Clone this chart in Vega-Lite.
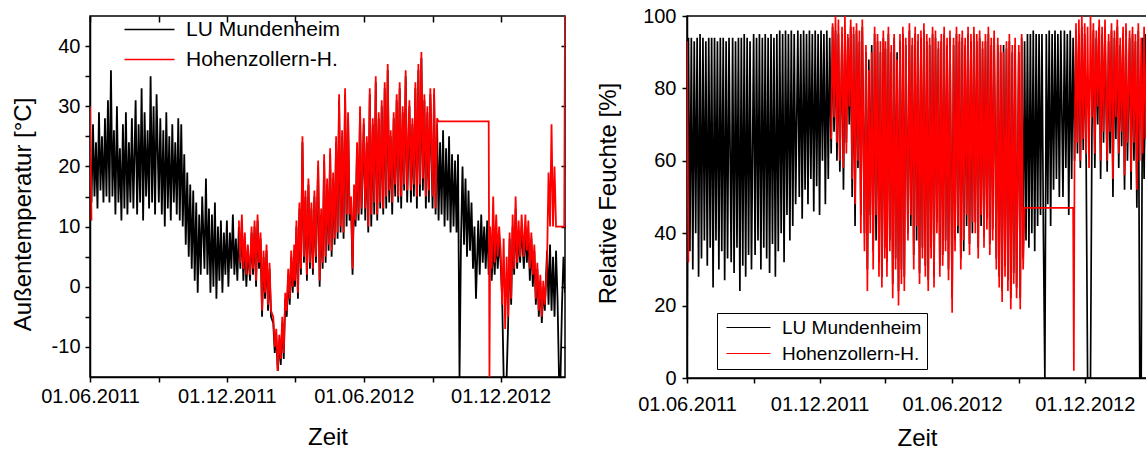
{
  "$schema": "https://vega.github.io/schema/vega-lite/v6.json",
  "background": "white",
  "padding": {"left": 10, "top": 5, "right": 0, "bottom": 0},
  "spacing": 28,
  "config": {
    "font": "Liberation Sans",
    "view": {"stroke": "black", "strokeWidth": 1.5},
    "axis": {"grid": false, "domainColor": "black", "domainWidth": 1.5, "tickColor": "black", "tickWidth": 1.5, "labelColor": "black", "titleColor": "black", "labelFontSize": 20, "titleFontSize": 24, "titleFontWeight": "normal"},
    "legend": {"labelColor": "black", "labelLimit": 400}
  },
  "resolve": {"scale": {"color": "independent"}, "legend": {"color": "independent"}},
  "datasets": {
    "m": [
      {"d":"2011-06-01","t":22,"h":0,"T":30,"H":93},
      {"d":"2011-06-03","t":14,"h":94,"T":11,"H":32},
      {"d":"2011-06-05","t":27,"h":35,"T":null,"H":null},
      {"d":"2011-06-07","t":15,"h":94},
      {"d":"2011-06-09","t":24,"h":30},
      {"d":"2011-06-11","t":13,"h":93},
      {"d":"2011-06-13","t":29,"h":40},
      {"d":"2011-06-15","t":16,"h":94},
      {"d":"2011-06-17","t":25,"h":28},
      {"d":"2011-06-19","t":14,"h":95},
      {"d":"2011-06-21","t":28,"h":33},
      {"d":"2011-06-23","t":15,"h":94},
      {"d":"2011-06-25","t":31,"h":38},
      {"d":"2011-06-27","t":14,"h":93},
      {"d":"2011-06-29","t":36,"h":31},
      {"d":"2011-07-01","t":15,"h":94},
      {"d":"2011-07-03","t":26,"h":36},
      {"d":"2011-07-05","t":12,"h":94},
      {"d":"2011-07-07","t":30,"h":25},
      {"d":"2011-07-09","t":14,"h":94},
      {"d":"2011-07-11","t":23,"h":38},
      {"d":"2011-07-13","t":11,"h":93},
      {"d":"2011-07-15","t":27,"h":30},
      {"d":"2011-07-17","t":13,"h":94},
      {"d":"2011-07-19","t":29,"h":35},
      {"d":"2011-07-21","t":12,"h":94},
      {"d":"2011-07-23","t":24,"h":27},
      {"d":"2011-07-25","t":14,"h":93},
      {"d":"2011-07-27","t":28,"h":33},
      {"d":"2011-07-29","t":13,"h":94},
      {"d":"2011-08-01","t":31,"h":32},
      {"d":"2011-08-03","t":12,"h":94},
      {"d":"2011-08-05","t":27,"h":29},
      {"d":"2011-08-07","t":14,"h":93},
      {"d":"2011-08-09","t":33,"h":36},
      {"d":"2011-08-11","t":11,"h":94},
      {"d":"2011-08-13","t":29,"h":24},
      {"d":"2011-08-15","t":15,"h":94},
      {"d":"2011-08-17","t":26,"h":31},
      {"d":"2011-08-19","t":13,"h":95},
      {"d":"2011-08-21","t":35,"h":28},
      {"d":"2011-08-23","t":14,"h":94},
      {"d":"2011-08-25","t":30,"h":34},
      {"d":"2011-08-27","t":12,"h":93},
      {"d":"2011-08-29","t":32,"h":30},
      {"d":"2011-09-01","t":14,"h":95},
      {"d":"2011-09-03","t":28,"h":34},
      {"d":"2011-09-05","t":12,"h":94},
      {"d":"2011-09-07","t":26,"h":38},
      {"d":"2011-09-09","t":10,"h":95},
      {"d":"2011-09-11","t":29,"h":30},
      {"d":"2011-09-13","t":13,"h":94},
      {"d":"2011-09-15","t":25,"h":36},
      {"d":"2011-09-17","t":11,"h":95},
      {"d":"2011-09-19","t":27,"h":33},
      {"d":"2011-09-21","t":14,"h":94},
      {"d":"2011-09-23","t":24,"h":29},
      {"d":"2011-09-25","t":12,"h":95},
      {"d":"2011-09-27","t":28,"h":37},
      {"d":"2011-09-29","t":11,"h":94},
      {"d":"2011-10-01","t":27,"h":28},
      {"d":"2011-10-03","t":10,"h":95},
      {"d":"2011-10-05","t":22,"h":35},
      {"d":"2011-10-07","t":7,"h":96},
      {"d":"2011-10-09","t":19,"h":40},
      {"d":"2011-10-11","t":5,"h":95},
      {"d":"2011-10-13","t":17,"h":32},
      {"d":"2011-10-15","t":3,"h":96},
      {"d":"2011-10-17","t":16,"h":45},
      {"d":"2011-10-19","t":1,"h":95},
      {"d":"2011-10-21","t":14,"h":38},
      {"d":"2011-10-23","t":-1,"h":96},
      {"d":"2011-10-25","t":12,"h":42},
      {"d":"2011-10-27","t":2,"h":95},
      {"d":"2011-10-29","t":15,"h":48},
      {"d":"2011-11-01","t":3,"h":96},
      {"d":"2011-11-03","t":18,"h":50},
      {"d":"2011-11-05","t":2,"h":95},
      {"d":"2011-11-07","t":13,"h":44},
      {"d":"2011-11-09","t":-1,"h":96},
      {"d":"2011-11-11","t":12,"h":52},
      {"d":"2011-11-13","t":0,"h":95},
      {"d":"2011-11-15","t":14,"h":48},
      {"d":"2011-11-17","t":-2,"h":96},
      {"d":"2011-11-19","t":10,"h":55},
      {"d":"2011-11-21","t":1,"h":95},
      {"d":"2011-11-23","t":11,"h":46},
      {"d":"2011-11-25","t":-1,"h":96},
      {"d":"2011-11-27","t":9,"h":53},
      {"d":"2011-11-29","t":2,"h":95},
      {"d":"2011-12-01","t":11,"h":45},
      {"d":"2011-12-03","t":0,"h":96},
      {"d":"2011-12-05","t":9,"h":60},
      {"d":"2011-12-07","t":3,"h":95},
      {"d":"2011-12-09","t":12,"h":48},
      {"d":"2011-12-11","t":2,"h":96},
      {"d":"2011-12-13","t":8,"h":55},
      {"d":"2011-12-15","t":1,"h":94},
      {"d":"2011-12-17","t":10,"h":62,"T":11,"H":66},
      {"d":"2011-12-19","t":3,"h":97,"T":4,"H":98},
      {"d":"2011-12-21","t":11,"h":68,"T":12,"H":72},
      {"d":"2011-12-23","t":1,"h":96,"T":3,"H":100},
      {"d":"2011-12-25","t":8,"h":60,"T":9,"H":65},
      {"d":"2011-12-27","t":0,"h":95,"T":2,"H":99},
      {"d":"2011-12-29","t":6,"h":57,"T":7,"H":60},
      {"d":"2012-01-01","t":1,"h":95,"T":2,"H":97},
      {"d":"2012-01-03","t":9,"h":52,"T":10,"H":58},
      {"d":"2012-01-05","t":2,"h":96,"T":3,"H":100},
      {"d":"2012-01-07","t":10,"h":65,"T":11,"H":62},
      {"d":"2012-01-09","t":0,"h":94,"T":1,"H":95},
      {"d":"2012-01-11","t":11,"h":70,"T":12,"H":75},
      {"d":"2012-01-13","t":3,"h":97,"T":4,"H":99},
      {"d":"2012-01-15","t":8,"h":50,"T":9,"H":55},
      {"d":"2012-01-17","t":-5,"h":95,"T":-4,"H":97},
      {"d":"2012-01-19","t":5,"h":42,"T":6,"H":48},
      {"d":"2012-01-21","t":-2,"h":96,"T":-1,"H":98},
      {"d":"2012-01-23","t":6,"h":58,"T":7,"H":60},
      {"d":"2012-01-25","t":-4,"h":93,"T":-3,"H":96},
      {"d":"2012-01-27","t":3,"h":45,"T":4,"H":40},
      {"d":"2012-01-29","t":-5,"h":97,"T":-4,"H":99},
      {"d":"2012-02-01","t":-6,"h":40,"T":-5,"H":35},
      {"d":"2012-02-03","t":-11,"h":90,"T":-10,"H":92},
      {"d":"2012-02-05","t":-8,"h":30,"T":-7,"H":24},
      {"d":"2012-02-07","t":-14,"h":88,"T":-14,"H":85},
      {"d":"2012-02-09","t":-9,"h":45,"T":-8,"H":40},
      {"d":"2012-02-11","t":-13,"h":92,"T":-12,"H":90},
      {"d":"2012-02-13","t":-6,"h":35,"T":-5,"H":30},
      {"d":"2012-02-15","t":-12,"h":95,"T":-11,"H":97},
      {"d":"2012-02-17","t":-2,"h":38,"T":-1,"H":45},
      {"d":"2012-02-19","t":-5,"h":93,"T":-4,"H":95},
      {"d":"2012-02-21","t":2,"h":32,"T":3,"H":28},
      {"d":"2012-02-23","t":-3,"h":90,"T":-2,"H":93},
      {"d":"2012-02-25","t":5,"h":28,"T":6,"H":25},
      {"d":"2012-02-27","t":-1,"h":94,"T":0,"H":96},
      {"d":"2012-02-29","t":6,"h":36,"T":7,"H":33},
      {"d":"2012-03-01","t":0,"h":91,"T":1,"H":93},
      {"d":"2012-03-03","t":10,"h":32,"T":11,"H":28},
      {"d":"2012-03-05","t":-2,"h":95,"T":-1,"H":97},
      {"d":"2012-03-07","t":13,"h":38,"T":14,"H":35},
      {"d":"2012-03-09","t":2,"h":90,"T":3,"H":92},
      {"d":"2012-03-11","t":24,"h":26,"T":25,"H":22},
      {"d":"2012-03-13","t":4,"h":94,"T":5,"H":95},
      {"d":"2012-03-15","t":15,"h":33,"T":16,"H":30},
      {"d":"2012-03-17","t":1,"h":90,"T":2,"H":88},
      {"d":"2012-03-19","t":17,"h":24,"T":18,"H":20},
      {"d":"2012-03-21","t":3,"h":93,"T":4,"H":95},
      {"d":"2012-03-23","t":13,"h":30,"T":14,"H":26},
      {"d":"2012-03-25","t":2,"h":95,"T":3,"H":97},
      {"d":"2012-03-27","t":15,"h":28,"T":16,"H":24},
      {"d":"2012-03-29","t":4,"h":92,"T":5,"H":94},
      {"d":"2012-04-01","t":20,"h":40,"T":21,"H":38},
      {"d":"2012-04-03","t":0,"h":96,"T":1,"H":98},
      {"d":"2012-04-05","t":12,"h":42,"T":13,"H":45},
      {"d":"2012-04-07","t":3,"h":92,"T":4,"H":94},
      {"d":"2012-04-09","t":21,"h":34,"T":22,"H":30},
      {"d":"2012-04-11","t":4,"h":95,"T":5,"H":97},
      {"d":"2012-04-13","t":17,"h":38,"T":18,"H":42},
      {"d":"2012-04-15","t":6,"h":93,"T":7,"H":95},
      {"d":"2012-04-17","t":22,"h":29,"T":23,"H":26},
      {"d":"2012-04-19","t":5,"h":94,"T":6,"H":96},
      {"d":"2012-04-21","t":18,"h":36,"T":19,"H":33},
      {"d":"2012-04-23","t":7,"h":96,"T":8,"H":98},
      {"d":"2012-04-25","t":24,"h":31,"T":25,"H":28},
      {"d":"2012-04-27","t":8,"h":93,"T":9,"H":95},
      {"d":"2012-04-29","t":31,"h":27,"T":32,"H":24},
      {"d":"2012-05-01","t":9,"h":92,"T":10,"H":94},
      {"d":"2012-05-03","t":25,"h":36,"T":26,"H":33},
      {"d":"2012-05-05","t":8,"h":95,"T":9,"H":97},
      {"d":"2012-05-07","t":32,"h":28,"T":33,"H":25},
      {"d":"2012-05-09","t":10,"h":94,"T":12,"H":96},
      {"d":"2012-05-11","t":28,"h":43,"T":29,"H":40},
      {"d":"2012-05-13","t":11,"h":91,"T":12,"H":93},
      {"d":"2012-05-15","t":14,"h":31,"T":15,"H":28},
      {"d":"2012-05-17","t":2,"h":93,"T":3,"H":95},
      {"d":"2012-05-19","t":16,"h":34,"T":17,"H":31},
      {"d":"2012-05-21","t":10,"h":95,"T":11,"H":97},
      {"d":"2012-05-23","t":23,"h":38,"T":24,"H":35},
      {"d":"2012-05-25","t":11,"h":92,"T":12,"H":94},
      {"d":"2012-05-27","t":29,"h":30,"T":30,"H":27},
      {"d":"2012-05-29","t":12,"h":94,"T":13,"H":96},
      {"d":"2012-06-01","t":27,"h":22,"T":28,"H":18},
      {"d":"2012-06-03","t":11,"h":92,"T":13,"H":94},
      {"d":"2012-06-05","t":24,"h":38,"T":25,"H":35},
      {"d":"2012-06-07","t":9,"h":95,"T":10,"H":97},
      {"d":"2012-06-09","t":32,"h":40,"T":33,"H":42},
      {"d":"2012-06-11","t":10,"h":93,"T":12,"H":95},
      {"d":"2012-06-13","t":27,"h":33,"T":28,"H":30},
      {"d":"2012-06-15","t":12,"h":94,"T":14,"H":96},
      {"d":"2012-06-17","t":34,"h":35,"T":35,"H":38},
      {"d":"2012-06-19","t":11,"h":92,"T":12,"H":94},
      {"d":"2012-06-21","t":28,"h":42,"T":29,"H":45},
      {"d":"2012-06-23","t":13,"h":95,"T":14,"H":97},
      {"d":"2012-06-25","t":30,"h":37,"T":31,"H":34},
      {"d":"2012-06-27","t":12,"h":93,"T":13,"H":95},
      {"d":"2012-06-29","t":33,"h":40,"T":34,"H":43},
      {"d":"2012-07-01","t":13,"h":95,"T":15,"H":97},
      {"d":"2012-07-03","t":36,"h":43,"T":37,"H":40},
      {"d":"2012-07-05","t":14,"h":93,"T":16,"H":95},
      {"d":"2012-07-07","t":25,"h":36,"T":26,"H":33},
      {"d":"2012-07-09","t":12,"h":94,"T":14,"H":96},
      {"d":"2012-07-11","t":28,"h":42,"T":29,"H":45},
      {"d":"2012-07-13","t":15,"h":91,"T":17,"H":93},
      {"d":"2012-07-15","t":31,"h":39,"T":32,"H":36},
      {"d":"2012-07-17","t":14,"h":93,"T":15,"H":95},
      {"d":"2012-07-19","t":33,"h":44,"T":34,"H":41},
      {"d":"2012-07-21","t":13,"h":95,"T":15,"H":97},
      {"d":"2012-07-23","t":29,"h":37,"T":30,"H":34},
      {"d":"2012-07-25","t":16,"h":92,"T":17,"H":94},
      {"d":"2012-07-27","t":35,"h":41,"T":36,"H":38},
      {"d":"2012-07-29","t":14,"h":94,"T":16,"H":96},
      {"d":"2012-08-01","t":30,"h":33,"T":31,"H":30},
      {"d":"2012-08-03","t":14,"h":92,"T":16,"H":94},
      {"d":"2012-08-05","t":27,"h":28,"T":28,"H":25},
      {"d":"2012-08-07","t":15,"h":90,"T":17,"H":92},
      {"d":"2012-08-09","t":33,"h":24,"T":34,"H":21},
      {"d":"2012-08-11","t":13,"h":92,"T":15,"H":90},
      {"d":"2012-08-13","t":36,"h":31,"T":37,"H":28},
      {"d":"2012-08-15","t":15,"h":91,"T":17,"H":93},
      {"d":"2012-08-17","t":38,"h":27,"T":39,"H":24},
      {"d":"2012-08-19","t":16,"h":93,"T":18,"H":95},
      {"d":"2012-08-21","t":31,"h":22,"T":32,"H":19},
      {"d":"2012-08-23","t":13,"h":90,"T":15,"H":92},
      {"d":"2012-08-25","t":29,"h":29,"T":30,"H":26},
      {"d":"2012-08-27","t":14,"h":92,"T":16,"H":94},
      {"d":"2012-08-29","t":32,"h":25,"T":33,"H":22},
      {"d":"2012-09-01","t":13,"h":90,"T":15,"H":92},
      {"d":"2012-09-03","t":32,"h":22,"T":33,"H":19},
      {"d":"2012-09-05","t":12,"h":94,"T":13,"H":95},
      {"d":"2012-09-07","t":27,"h":33,"T":28,"H":30},
      {"d":"2012-09-09","t":11,"h":93,"T":27.5,"H":47},
      {"d":"2012-09-11","t":24,"h":38},
      {"d":"2012-09-13","t":12,"h":95},
      {"d":"2012-09-15","t":26,"h":36},
      {"d":"2012-09-17","t":10,"h":95},
      {"d":"2012-09-19","t":23,"h":40},
      {"d":"2012-09-21","t":11,"h":96},
      {"d":"2012-09-23","t":25,"h":35},
      {"d":"2012-09-25","t":9,"h":95},
      {"d":"2012-09-27","t":22,"h":42},
      {"d":"2012-09-29","t":10,"h":95},
      {"d":"2012-10-01","t":21,"h":45},
      {"d":"2012-10-03","t":9,"h":95},
      {"d":"2012-10-05","t":22,"h":40},
      {"d":"2012-10-07","t":-15,"h":0},
      {"d":"2012-10-09","t":8,"h":95},
      {"d":"2012-10-11","t":20,"h":48},
      {"d":"2012-10-13","t":7,"h":96},
      {"d":"2012-10-15","t":18,"h":42},
      {"d":"2012-10-17","t":5,"h":95},
      {"d":"2012-10-19","t":16,"h":52},
      {"d":"2012-10-21","t":6,"h":96},
      {"d":"2012-10-23","t":14,"h":55},
      {"d":"2012-10-25","t":3,"h":95},
      {"d":"2012-10-27","t":10,"h":50},
      {"d":"2012-10-29","t":-2,"h":96},
      {"d":"2012-11-01","t":11,"h":50},
      {"d":"2012-11-03","t":2,"h":96},
      {"d":"2012-11-05","t":12,"h":58},
      {"d":"2012-11-07","t":4,"h":95},
      {"d":"2012-11-09","t":10,"h":45},
      {"d":"2012-11-11","t":3,"h":96},
      {"d":"2012-11-13","t":11,"h":55},
      {"d":"2012-11-15","t":2,"h":94,"T":27.5,"H":47},
      {"d":"2012-11-16","T":-15,"H":2},
      {"d":"2012-11-17","t":9,"h":60,"T":10,"H":62},
      {"d":"2012-11-19","t":1,"h":96,"T":3,"H":98},
      {"d":"2012-11-21","t":8,"h":62,"T":15,"H":65},
      {"d":"2012-11-23","t":2,"h":95,"T":4,"H":99},
      {"d":"2012-11-25","t":9,"h":58,"T":12,"H":60},
      {"d":"2012-11-27","t":3,"h":97,"T":5,"H":100},
      {"d":"2012-11-29","t":8,"h":63,"T":10,"H":66},
      {"d":"2012-12-01","t":4,"h":95,"T":6,"H":98},
      {"d":"2012-12-03","t":-2,"h":60,"T":-3,"H":62},
      {"d":"2012-12-05","t":-15,"h":0,"T":8,"H":97},
      {"d":"2012-12-07","t":-15,"h":0,"T":-7,"H":58},
      {"d":"2012-12-09","t":-15,"h":0,"T":5,"H":100},
      {"d":"2012-12-11","t":-6,"h":68,"T":-5,"H":72},
      {"d":"2012-12-13","t":8,"h":96,"T":9,"H":98},
      {"d":"2012-12-15","t":-3,"h":58,"T":-2,"H":62},
      {"d":"2012-12-17","t":10,"h":94,"T":12,"H":96},
      {"d":"2012-12-19","t":2,"h":70,"T":3,"H":75},
      {"d":"2012-12-21","t":13,"h":97,"T":15,"H":99},
      {"d":"2012-12-23","t":3,"h":55,"T":4,"H":60},
      {"d":"2012-12-25","t":9,"h":95,"T":11,"H":97},
      {"d":"2012-12-27","t":4,"h":65,"T":5,"H":68},
      {"d":"2012-12-29","t":10,"h":96,"T":12,"H":99},
      {"d":"2013-01-01","t":3,"h":57,"T":5,"H":60},
      {"d":"2013-01-03","t":10,"h":93,"T":12,"H":95},
      {"d":"2013-01-05","t":4,"h":62,"T":6,"H":68},
      {"d":"2013-01-07","t":9,"h":96,"T":11,"H":98},
      {"d":"2013-01-09","t":1,"h":50,"T":3,"H":55},
      {"d":"2013-01-11","t":8,"h":94,"T":9,"H":96},
      {"d":"2013-01-13","t":0,"h":66,"T":2,"H":72},
      {"d":"2013-01-15","t":6,"h":97,"T":7,"H":99},
      {"d":"2013-01-17","t":-3,"h":58,"T":-2,"H":62},
      {"d":"2013-01-19","t":3,"h":92,"T":4,"H":94},
      {"d":"2013-01-21","t":-5,"h":64,"T":-4,"H":68},
      {"d":"2013-01-23","t":1,"h":95,"T":2,"H":97},
      {"d":"2013-01-25","t":-6,"h":52,"T":-5,"H":56},
      {"d":"2013-01-27","t":0,"h":96,"T":1,"H":98},
      {"d":"2013-01-29","t":-4,"h":60,"T":-3,"H":65},
      {"d":"2013-02-01","t":6,"h":94,"T":4,"H":96},
      {"d":"2013-02-03","t":-3,"h":52,"T":19,"H":57},
      {"d":"2013-02-05","t":7,"h":95,"T":10,"H":97},
      {"d":"2013-02-07","t":-4,"h":60,"T":27,"H":65},
      {"d":"2013-02-09","t":5,"h":93,"T":10,"H":95},
      {"d":"2013-02-11","t":-5,"h":47,"T":20,"H":52},
      {"d":"2013-02-13","t":6,"h":96,"T":10,"H":98},
      {"d":"2013-02-15","t":-2,"h":0,"T":10,"H":60},
      {"d":"2013-02-17","t":-15,"h":0,"T":10,"H":94},
      {"d":"2013-02-19","t":-15,"h":94,"T":10,"H":62},
      {"d":"2013-02-21","t":-3,"h":55,"T":10,"H":97},
      {"d":"2013-02-23","t":5,"h":95,"T":10,"H":66},
      {"d":"2013-02-24","T":10},
      {"d":"2013-02-25","t":-1,"h":58,"T":45,"H":96}
    ]
  },
  "hconcat": [
    {
      "width": 475,
      "height": 361,
      "data": {"name": "m"},
      "resolve": {"axis": {"x": "independent", "y": "independent"}},
      "layer": [
        {
          "transform": [{"filter": "isDefined(datum.t)"}],
          "mark": {"type": "line", "strokeWidth": 1.8, "clip": true, "invalid": "break-paths-show-domains"},
          "encoding": {
            "x": {"field": "d", "type": "temporal", "title": "Zeit",
              "scale": {"type": "utc", "domain": [{"year": 2011, "month": 6, "date": 1, "utc": true}, {"year": 2013, "month": 2, "date": 25, "utc": true}]},
              "axis": {"values": [{"year": 2011, "month": 6, "date": 1, "utc": true}, {"year": 2011, "month": 9, "date": 1, "utc": true}, {"year": 2011, "month": 12, "date": 1, "utc": true}, {"year": 2012, "month": 3, "date": 1, "utc": true}, {"year": 2012, "month": 6, "date": 1, "utc": true}, {"year": 2012, "month": 9, "date": 1, "utc": true}, {"year": 2012, "month": 12, "date": 1, "utc": true}],
                "labelExpr": "utcmonth(datum.value) % 6 == 5 ? utcFormat(datum.value, '%d.%m.%Y') : ''",
                "labelFlush": false, "labelOverlap": false, "tickSize": 5, "labelPadding": 4, "titlePadding": 19}},
            "y": {"field": "t", "type": "quantitative", "title": "Außentemperatur [°C]",
              "scale": {"domain": [-15, 45], "nice": false, "zero": false},
              "axis": {"values": [-10, -5, 0, 5, 10, 15, 20, 25, 30, 35, 40], "labelExpr": "datum.value % 10 == 0 ? '' + datum.value : ''", "tickSize": 5, "labelPadding": 5, "titlePadding": 16, "titleY": 198}},
            "color": {"datum": "LU Mundenheim", "type": "nominal",
              "scale": {"domain": ["LU Mundenheim", "Hohenzollern-H."], "range": ["black", "#ff0000"]},
              "legend": {"orient": "none", "legendX": 29, "legendY": 3, "title": null, "symbolType": "M-1,0H9", "symbolSize": 100, "symbolStrokeWidth": 1.5, "labelFontSize": 21, "labelOffset": 46, "rowPadding": 8, "padding": 0}}
          }
        },
        {
          "transform": [{"filter": "isDefined(datum.T)"}],
          "mark": {"type": "line", "strokeWidth": 1.8, "clip": true, "invalid": "break-paths-show-domains"},
          "encoding": {
            "x": {"field": "d", "type": "temporal",
              "axis": {"orient": "top", "title": null, "labels": false, "domain": false, "tickSize": -6, "values": [{"year": 2011, "month": 6, "date": 1, "utc": true}, {"year": 2011, "month": 9, "date": 1, "utc": true}, {"year": 2011, "month": 12, "date": 1, "utc": true}, {"year": 2012, "month": 3, "date": 1, "utc": true}, {"year": 2012, "month": 6, "date": 1, "utc": true}, {"year": 2012, "month": 9, "date": 1, "utc": true}, {"year": 2012, "month": 12, "date": 1, "utc": true}]}},
            "y": {"field": "T", "type": "quantitative",
              "axis": {"orient": "right", "title": null, "labels": false, "domain": false, "tickSize": -4, "values": [-10, 0, 10, 20, 30, 40]}},
            "color": {"datum": "Hohenzollern-H.", "type": "nominal"}
          }
        }
      ]
    },
    {
      "width": 460,
      "height": 362,
      "data": {"name": "m"},
      "layer": [
        {
          "transform": [{"filter": "isDefined(datum.h)"}],
          "mark": {"type": "line", "strokeWidth": 1.7, "clip": true, "invalid": "break-paths-show-domains"},
          "encoding": {
            "x": {"field": "d", "type": "temporal", "title": "Zeit",
              "scale": {"type": "utc", "domain": [{"year": 2011, "month": 6, "date": 1, "utc": true}, {"year": 2013, "month": 2, "date": 25, "utc": true}]},
              "axis": {"values": [{"year": 2011, "month": 6, "date": 1, "utc": true}, {"year": 2011, "month": 9, "date": 1, "utc": true}, {"year": 2011, "month": 12, "date": 1, "utc": true}, {"year": 2012, "month": 3, "date": 1, "utc": true}, {"year": 2012, "month": 6, "date": 1, "utc": true}, {"year": 2012, "month": 9, "date": 1, "utc": true}, {"year": 2012, "month": 12, "date": 1, "utc": true}],
                "labelExpr": "utcmonth(datum.value) % 6 == 5 ? utcFormat(datum.value, '%d.%m.%Y') : ''",
                "labelFlush": false, "labelOverlap": false, "tickSize": 5, "labelPadding": 11, "titlePadding": 12}},
            "y": {"field": "h", "type": "quantitative", "title": "Relative Feuchte [%]",
              "scale": {"domain": [0, 100], "nice": false},
              "axis": {"values": [0, 10, 20, 30, 40, 50, 60, 70, 80, 90, 100], "labelExpr": "datum.value % 20 == 0 ? '' + datum.value : ''", "tickSize": 5, "labelPadding": 6, "titlePadding": 22, "titleY": 177}},
            "color": {"datum": "LU Mundenheim", "type": "nominal",
              "scale": {"domain": ["LU Mundenheim", "Hohenzollern-H."], "range": ["black", "#ff0000"]},
              "legend": {"orient": "none", "legendX": 30, "legendY": 297, "title": null, "symbolType": "M-1,0H7.8", "symbolSize": 100, "symbolStrokeWidth": 1.2, "labelFontSize": 19, "labelOffset": 41, "rowPadding": 6, "padding": 5, "strokeColor": "black", "fillColor": "white", "cornerRadius": 0}}
          }
        },
        {
          "transform": [{"filter": "isDefined(datum.H)"}],
          "mark": {"type": "line", "strokeWidth": 1.7, "clip": true, "invalid": "break-paths-show-domains"},
          "encoding": {
            "x": {"field": "d", "type": "temporal"},
            "y": {"field": "H", "type": "quantitative"},
            "color": {"datum": "Hohenzollern-H.", "type": "nominal"}
          }
        }
      ]
    }
  ]
}
